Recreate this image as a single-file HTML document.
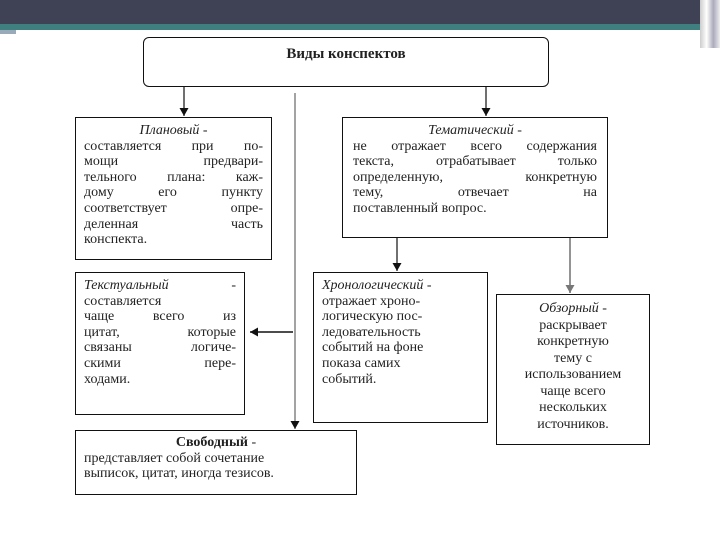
<!DOCTYPE html><html><head><meta charset="utf-8"><style>
body{margin:0;width:720px;height:540px;background:#fff;position:relative;overflow:hidden;font-family:"Liberation Serif","DejaVu Serif",serif;color:#222}
.b{position:absolute;border:1.5px solid #111;box-sizing:border-box;font-size:14px;line-height:15.6px;padding:3px 8px}
.b div{text-align:justify;text-align-last:justify;white-space:nowrap}
.b div.l{text-align-last:left}
.b div.c{text-align:center;text-align-last:center}
i{font-style:italic}
</style></head><body>
<div style="position:absolute;left:0;top:0;width:720px;height:24px;background:#3e4254"></div>
<div style="position:absolute;left:0;top:24px;width:710px;height:6px;background:#3f7f80"></div>
<div style="position:absolute;left:0;top:30px;width:16px;height:4px;background:#9ab"></div>
<div style="position:absolute;left:700px;top:0;width:20px;height:48px;background:linear-gradient(90deg,#ccc,#fff,#aab,#eee)"></div>
<svg style="position:absolute;left:0;top:0" width="720" height="540">
<defs><marker id="a" markerUnits="userSpaceOnUse" markerWidth="8" markerHeight="9" refX="8" refY="4.5" orient="auto"><path d="M0,0L8,4.5L0,9z" fill="#111"/></marker>
<marker id="g" markerUnits="userSpaceOnUse" markerWidth="8" markerHeight="9" refX="8" refY="4.5" orient="auto"><path d="M0,0L8,4.5L0,9z" fill="#777"/></marker></defs>
<g stroke="#111" stroke-width="1.2" fill="none">
<line x1="184" y1="87" x2="184" y2="116" marker-end="url(#a)"/>
<line x1="486" y1="87" x2="486" y2="116" marker-end="url(#a)"/>
<line x1="397" y1="238" x2="397" y2="271" marker-end="url(#a)"/>
<line x1="295" y1="93" x2="295" y2="429" stroke="#666" marker-end="url(#a)"/>
<line x1="293" y1="332" x2="250" y2="332" stroke-width="1.6" marker-end="url(#a)"/>
<line x1="570" y1="238" x2="570" y2="293" stroke="#888" stroke-width="1.8" marker-end="url(#g)"/>
</g></svg>
<div class="b" style="left:143px;top:37px;width:406px;height:50px;border-radius:6px;font-size:15px;font-weight:bold;padding-top:9px;text-align:center">Виды конспектов</div>
<div class="b" style="left:75px;top:117px;width:197px;height:143px;padding-top:5px"><div class="c"><i>Плановый</i> -</div><div>составляется при по-</div><div>мощи &nbsp; предвари-</div><div>тельного плана: каж-</div><div>дому его пункту</div><div>соответствует опре-</div><div>деленная часть</div><div class="l">конспекта.</div></div>
<div class="b" style="left:342px;top:117px;width:266px;height:121px;padding:5px 10px"><div class="c"><i>Тематический</i> -</div><div>не отражает всего содержания</div><div>текста, отрабатывает только</div><div>определенную, конкретную</div><div>тему, отвечает на</div><div class="l">поставленный вопрос.</div></div>
<div class="b" style="left:75px;top:272px;width:170px;height:143px;padding-top:5px"><div><i>Текстуальный</i> &nbsp; -</div><div class="l">составляется</div><div>чаще всего из</div><div>цитат, которые</div><div>связаны логиче-</div><div>скими пере-</div><div class="l">ходами.</div></div>
<div class="b" style="left:313px;top:272px;width:175px;height:151px;padding-top:5px"><div class="l"><i>Хронологический</i> -</div><div class="l">отражает хроно-</div><div class="l">логическую пос-</div><div class="l">ледовательность</div><div class="l">событий на фоне</div><div class="l">показа самих</div><div class="l">событий.</div></div>
<div class="b" style="left:496px;top:294px;width:154px;height:151px;line-height:16.5px;padding-top:6px"><div class="c"><i>Обзорный</i> -</div><div class="c">раскрывает</div><div class="c">конкретную</div><div class="c">тему с</div><div class="c">использованием</div><div class="c">чаще всего</div><div class="c">нескольких</div><div class="c">источников.</div></div>
<div class="b" style="left:75px;top:430px;width:282px;height:65px;padding-top:4px"><div class="c"><b>Свободный</b> -</div><div class="l">представляет собой сочетание</div><div class="l">выписок, цитат, иногда тезисов.</div></div>
</body></html>
